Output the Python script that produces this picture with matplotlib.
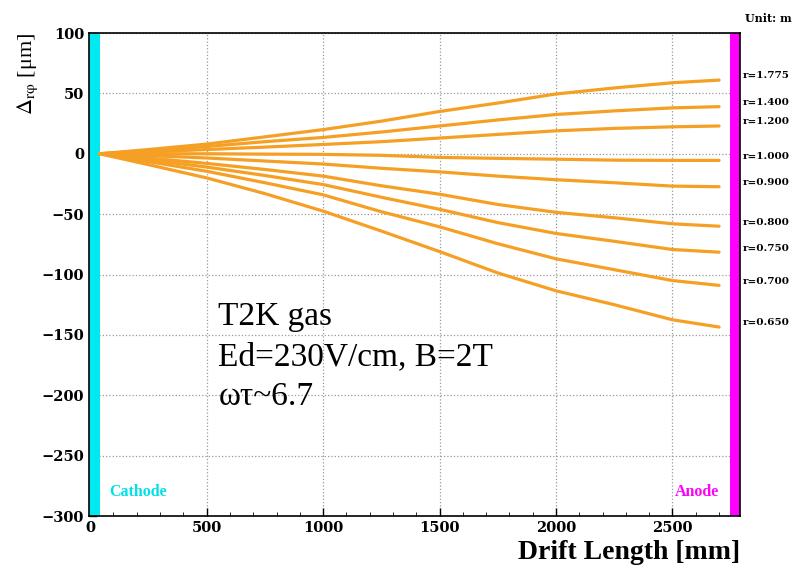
import matplotlib
matplotlib.use("Agg")
import matplotlib.pyplot as plt
from matplotlib.ticker import MultipleLocator
import matplotlib.transforms as mtransforms

plt.rcParams['font.family'] = ['Liberation Serif', 'DejaVu Serif']
plt.rcParams['mathtext.fontset'] = 'stix'

# drift length sample points [mm]
drift = [40, 250, 500, 750, 1000, 1250, 1500, 1750, 2000, 2250, 2500, 2700]

# r-phi displacement [um] for each radius
r_labels = ['r=1.775', 'r=1.400', 'r=1.200', 'r=1.000', 'r=0.900',
            'r=0.800', 'r=0.750', 'r=0.700', 'r=0.650']
r1775 = [0, 3.5, 8, 14, 20, 27, 35, 42, 49.5, 54.5, 58.8, 61]
r1400 = [0, 2.5, 6, 10, 13.5, 18, 23, 28, 32.5, 35.5, 38, 39]
r1200 = [0, 1.5, 3.5, 5.5, 7.7, 10, 13, 16, 19, 21, 22.3, 23]
r1000 = [0, 0, 0, -0.3, -0.5, -1.3, -3, -3.8, -4.5, -5.3, -5.5, -5.5]
r0900 = [0, -1.5, -3.5, -6, -8.5, -12, -15, -18.5, -21.5, -24, -26.8, -27.3]
r0800 = [0, -3.5, -8, -13, -18.5, -26.5, -33.5, -42, -48.5, -53, -58, -60]
r0750 = [0, -5, -11, -18, -25.5, -36, -46, -57, -66, -72.5, -79.3, -81.5]
r0700 = [0, -6.5, -14.5, -24, -34, -48, -60.5, -74.5, -87, -96, -105, -109]
r0650 = [0, -9, -20, -33, -47.5, -64, -81, -98.7, -113.5, -125, -137.5, -143.5]
curves = [r1775, r1400, r1200, r1000, r0900, r0800, r0750, r0700, r0650]

fig = plt.figure(figsize=(7.99, 5.69), dpi=100)
ax = fig.add_axes([0.1114, 0.0931, 0.8148, 0.8489])

ax.set_xlim(-5, 2790)
ax.set_ylim(-300, 100)

# cathode / anode bands
ax.axvspan(-5, 43, color='#00e8f0', lw=0, zorder=1)
ax.axvspan(2745, 2790, color='#ff00ff', lw=0, zorder=1)

ax.grid(True, color='#999999', linestyle=':', linewidth=0.9, zorder=0)
ax.set_axisbelow(True)

for vals in curves:
    ax.plot(drift, vals, color='#f5a024', lw=2.3, solid_capstyle='round', zorder=3)

wide_bold = dict(family='DejaVu Serif', fontweight='bold')

trans = mtransforms.blended_transform_factory(ax.transAxes, ax.transData)
for lab, vals in zip(r_labels, curves):
    ax.annotate(lab, xy=(1.0, vals[-1]), xycoords=trans, xytext=(2, 3),
                textcoords='offset points', ha='left', va='center',
                fontsize=7.5, annotation_clip=False, **wide_bold)

fig.text(0.962, 0.968, 'Unit: m', ha='center', va='center', fontsize=8, **wide_bold)

ax.text(83, -280, 'Cathode', color='#00e0e8', fontsize=11.5, fontweight='bold', va='center')
ax.text(2700, -280, 'Anode', color='#ff00ff', fontsize=11.5, fontweight='bold', va='center', ha='right')

ax.text(550, -142, 'T2K gas', fontsize=24, va='baseline')
ax.text(550, -175, 'Ed=230V/cm, B=2T', fontsize=24, va='baseline')
ax.text(550, -208, 'ωτ~6.7', fontsize=24, va='baseline')

ax.xaxis.set_major_locator(MultipleLocator(500))
ax.xaxis.set_minor_locator(MultipleLocator(100))
ax.yaxis.set_major_locator(MultipleLocator(50))
ax.tick_params(axis='both', which='both', direction='in', top=False, right=False)
ax.tick_params(axis='both', which='major', length=6, labelsize=10.5, width=1)
ax.tick_params(axis='x', which='minor', length=3)
for lab in ax.get_xticklabels() + ax.get_yticklabels():
    lab.set_family('DejaVu Serif')
    lab.set_fontweight('bold')

for sp in ax.spines.values():
    sp.set_linewidth(1.2)

ax.set_xlabel('Drift Length [mm]', fontsize=20, fontweight='bold', loc='right', labelpad=4)
ax.set_ylabel(r'$\mathrm{\Delta}_{\mathrm{r\varphi}}$ [μm]', fontsize=16, loc='top', labelpad=1)

fig.savefig('out.png', dpi=100)
